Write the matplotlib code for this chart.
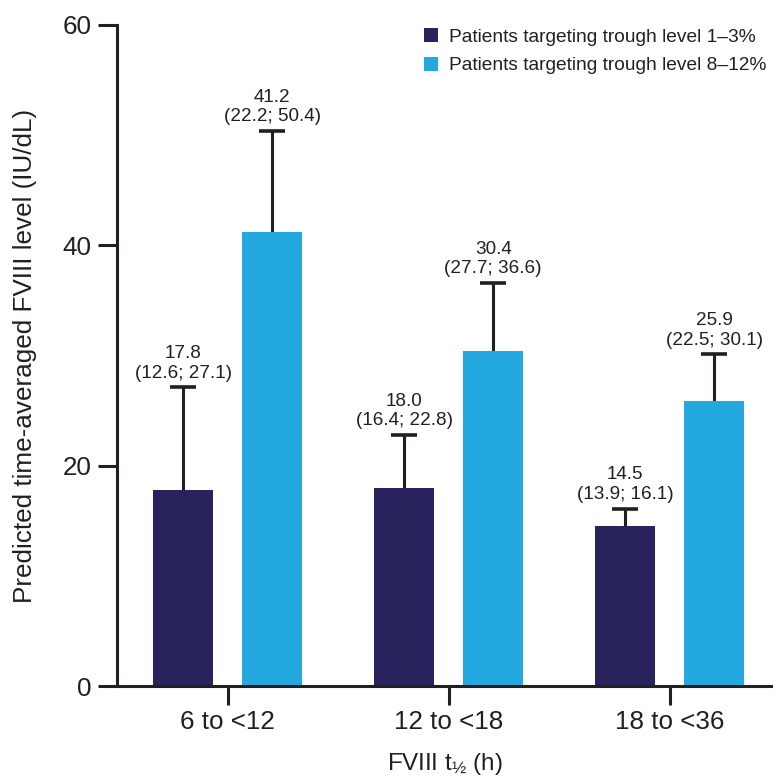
import numpy as np
import matplotlib
matplotlib.use('Agg')
import matplotlib.pyplot as plt
import matplotlib as mpl
from matplotlib.patches import Patch

mpl.rcParams['font.family'] = ['Liberation Sans', 'DejaVu Sans']
mpl.rcParams['mathtext.fontset'] = 'custom'
mpl.rcParams['mathtext.rm'] = 'Liberation Sans'
mpl.rcParams['mathtext.default'] = 'regular'

# data
categories = ['6 to <12', '12 to <18', '18 to <36']
series_names = ['Patients targeting trough level 1\u20133%',
                'Patients targeting trough level 8\u201312%']
median_low = [17.8, 18.0, 14.5]
ci_low_low = [12.6, 16.4, 13.9]
ci_high_low = [27.1, 22.8, 16.1]
median_high = [41.2, 30.4, 25.9]
ci_low_high = [22.2, 27.7, 22.5]
ci_high_high = [50.4, 36.6, 30.1]

colors = ['#28235c', '#23a8df']
ink = '#231f20'

fig = plt.figure(figsize=(7.73, 7.78), dpi=100)
ax = fig.add_axes([117/773, 92/778, 1 - 117/773, (686-25)/778])

x = np.arange(len(categories))
w = 0.271
off = 0.2014

series = [(median_low, ci_low_low, ci_high_low),
          (median_high, ci_low_high, ci_high_high)]
for i, (med, lo, hi) in enumerate(series):
    xs = x + (-off if i == 0 else off)
    ax.bar(xs, med, width=w, color=colors[i], zorder=2)
    # upper whisker only, with cap
    ax.vlines(xs, med, hi, color=ink, linewidth=2.2, zorder=1)
    ax.plot(xs, hi, linestyle='none', marker='_', markersize=19,
            markeredgewidth=2.6, color=ink, zorder=1)
    for xi, m, l, h in zip(xs, med, lo, hi):
        ax.annotate('%.1f\n(%.1f; %.1f)' % (m, l, h), (xi, h), xytext=(0, 4),
                    textcoords='offset points', ha='center', va='bottom',
                    fontsize=13.6, color=ink, linespacing=1.2)

ax.set_xlim(-0.5, 2.467)
ax.set_ylim(0, 60)
ax.set_yticks([0, 20, 40, 60])
ax.set_xticks(x)
ax.set_xticklabels(categories)
for s in ['top', 'right']:
    ax.spines[s].set_visible(False)
for s in ['left', 'bottom']:
    ax.spines[s].set_linewidth(2.2)
    ax.spines[s].set_color(ink)
ax.tick_params(axis='both', length=13.5, width=2.2, color=ink,
               labelsize=18.7, labelcolor=ink, pad=4)
ax.tick_params(axis='y', pad=5)

ax.set_ylabel('Predicted time-averaged FVIII level (IU/dL)', fontsize=18.8,
              color=ink, labelpad=18)
ax.set_xlabel('FVIII t$_{\u00bd}$ (h)', fontsize=17.5, color=ink, labelpad=12)

handles = [Patch(facecolor=c, edgecolor='none') for c in colors]
fig.legend(handles, series_names, loc='upper left',
           bbox_to_anchor=(424/773, 1 - 28/778), bbox_transform=fig.transFigure,
           frameon=False, fontsize=13.8, handlelength=0.74, handleheight=0.74,
           handletextpad=0.55, labelspacing=0.58, borderpad=0, borderaxespad=0,
           labelcolor=ink)

fig.savefig('out.png', dpi=100)
